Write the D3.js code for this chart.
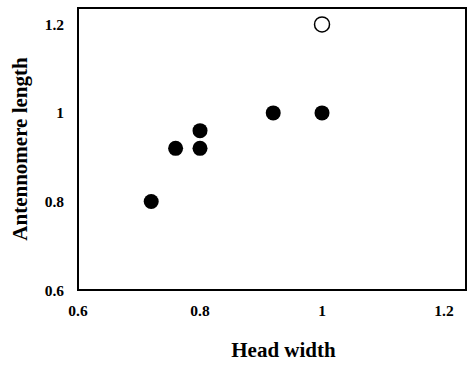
<!DOCTYPE html>
<html>
<head>
<meta charset="utf-8">
<script src="https://cdn.jsdelivr.net/npm/d3@7"></script>
<style>
  body { margin: 0; background: #fff; }
  text { font-family: "Liberation Serif", "Times New Roman", serif; font-weight: bold; fill: #000; }
</style>
</head>
<body>
<svg width="469" height="366"></svg>
<script>
// data
var headWidth = [0.72, 0.76, 0.8, 0.8, 0.92, 1.0];
var antennomere = [0.8, 0.92, 0.92, 0.96, 1.0, 1.0];
var openWidth = [1.0];
var openAntennomere = [1.2];
var xTicks = [0.6, 0.8, 1, 1.2];
var yTicks = [0.6, 0.8, 1, 1.2];

var svg = d3.select("svg"),
	plot = {left: 78, right: 466, top: 8, bottom: 290};

var x = d3.scaleLinear().domain([0.6, 1.236]).range([plot.left, plot.right]),
	y = d3.scaleLinear().domain([0.6, 1.237]).range([plot.bottom, plot.top]);

svg.append("rect")
	.attr("x", plot.left).attr("y", plot.top)
	.attr("width", plot.right - plot.left).attr("height", plot.bottom - plot.top)
	.attr("fill", "none").attr("stroke", "#000").attr("stroke-width", 2);

// tick labels, no tick marks
svg.append("g").selectAll("text")
	.data(xTicks)
	.enter().append("text")
	.attr("x", function(d) { return x(d); })
	.attr("y", 316)
	.attr("text-anchor", "middle")
	.attr("font-size", 15.5)
	.text(function(d) { return d3.format("")(d); });

svg.append("g").selectAll("text")
	.data(yTicks)
	.enter().append("text")
	.attr("x", 64)
	.attr("y", function(d) { return y(d) + 5.5; })
	.attr("text-anchor", "end")
	.attr("font-size", 15.5)
	.text(function(d) { return d3.format("")(d); });

svg.append("g").selectAll("circle")
	.data(headWidth)
	.enter().append("circle")
	.attr("cx", function(d) { return x(d); })
	.attr("cy", function(d, i) { return y(antennomere[i]); })
	.attr("r", 7.5)
	.attr("fill", "#000");

svg.append("g").selectAll("circle")
	.data(openWidth)
	.enter().append("circle")
	.attr("cx", function(d) { return x(d); })
	.attr("cy", function(d, i) { return y(openAntennomere[i]); })
	.attr("r", 7.5)
	.attr("fill", "#fff")
	.attr("stroke", "#000")
	.attr("stroke-width", 1.5);

svg.append("text")
	.attr("x", 283.5).attr("y", 357)
	.attr("text-anchor", "middle")
	.attr("font-size", 21)
	.text("Head width");

svg.append("text")
	.attr("transform", "translate(27,149) rotate(-90)")
	.attr("text-anchor", "middle")
	.attr("font-size", 21)
	.text("Antennomere length");
</script>
</body>
</html>
